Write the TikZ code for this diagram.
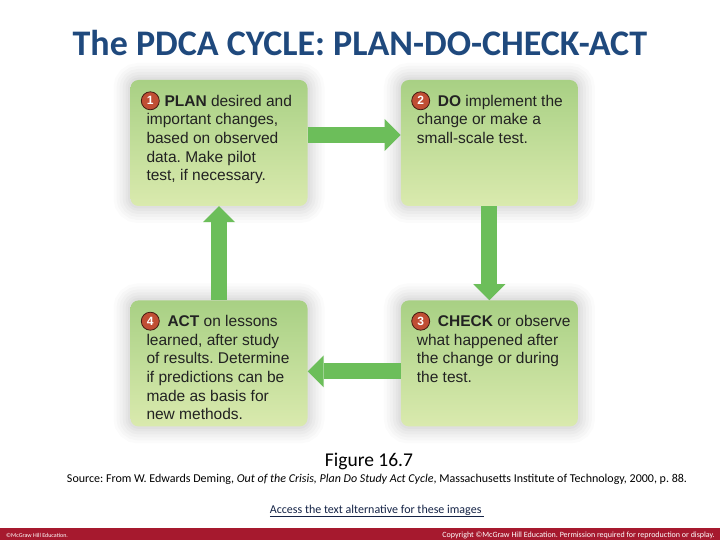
\documentclass[tikz,border=0pt]{standalone}
\usepackage{fontspec}
\setmainfont{Liberation Sans}
\newfontfamily\calibri{Carlito}
\usetikzlibrary{arrows.meta,positioning}
\frenchspacing

\definecolor{titleblue}{RGB}{31,73,125}
\definecolor{boxtop}{RGB}{168,208,132}
\definecolor{boxbot}{RGB}{218,234,174}
\definecolor{arrowgreen}{RGB}{108,190,90}
\definecolor{badgered}{RGB}{192,78,52}
\definecolor{barred}{RGB}{166,25,46}
\definecolor{linknavy}{RGB}{20,35,70}
\definecolor{textgray}{RGB}{34,34,34}

\begin{document}
\begin{tikzpicture}[
    x=1pt, y=-1pt,
    stepbox/.style={rounded corners=8pt, minimum width=177pt, minimum height=126pt,
              top color=boxtop, bottom color=boxbot, draw=none,
              preaction={draw=black, opacity=.015, line width=34pt},
              preaction={draw=black, opacity=.018, line width=28pt},
              preaction={draw=black, opacity=.02, line width=22pt},
              preaction={draw=black, opacity=.022, line width=16pt},
              preaction={draw=black, opacity=.025, line width=10pt},
              preaction={draw=black, opacity=.028, line width=5pt}},
    txt/.style={anchor=north west, align=left, inner sep=0pt, text=textgray,
              font=\fontsize{15.5}{18.6}\selectfont},
    badge/.style={circle, fill=badgered, draw=black!65!badgered, line width=.8pt,
              text=white, minimum size=18pt, inner sep=0pt,
              font=\bfseries\fontsize{12}{12}\selectfont},
    bigarrow/.style={draw=arrowgreen, line width=16pt,
              -{Triangle[length=16pt, width=32pt, line width=0pt]}},
    foot/.style={text=white, inner sep=0pt},
    ]
\useasboundingbox (0,0) rectangle (720,540);

\node[anchor=base, text=titleblue, font=\calibri\bfseries\fontsize{36}{36}\selectfont] (title)
     at (360,56) {The PDCA CYCLE: PLAN-DO-CHECK-ACT};

% the four steps
\node[stepbox] (plan) at (219,143) {};
\node[stepbox, right=93pt of plan] (do) {};
\node[stepbox, below=94pt of do] (check) {};
\node[stepbox, left=93pt of check] (act) {};

\node[badge] (n1) at ([xshift=20pt,yshift=-21pt]plan.north west) {1};
\node[badge] (n2) at ([xshift=20pt,yshift=-21pt]do.north west) {2};
\node[badge] (n3) at ([xshift=20pt,yshift=-21pt]check.north west) {3};
\node[badge] (n4) at ([xshift=20pt,yshift=-21pt]act.north west) {4};

\node[txt] (plantext) at ([xshift=16pt,yshift=-15pt]plan.north west)
     {\hspace*{18pt}\textbf{PLAN} desired and\\important changes,\\based on observed\\data. Make pilot\\test, if necessary.};
\node[txt] (dotext) at ([xshift=16pt,yshift=-15pt]do.north west)
     {\hspace*{21pt}\textbf{DO} implement the\\change or make a\\small-scale test.};
\node[txt] (checktext) at ([xshift=16pt,yshift=-15pt]check.north west)
     {\hspace*{21pt}\textbf{CHECK} or observe\\what happened after\\the change or during\\the test.};
\node[txt] (acttext) at ([xshift=16pt,yshift=-15pt]act.north west)
     {\hspace*{21pt}\textbf{ACT} on lessons\\learned, after study\\of results. Determine\\if predictions can be\\made as basis for\\new methods.};

\draw[bigarrow] ([yshift=8pt]plan.east) -- ([yshift=8pt]do.west);
\draw[bigarrow] (do.south) -- (check.north);
\draw[bigarrow] ([yshift=-8pt]check.west) -- ([yshift=-8pt]act.east);
\draw[bigarrow] (act.north) -- (plan.south);

% caption and source
\node[anchor=base, font=\calibri\fontsize{19.5}{19.5}\selectfont] (fig) at (369,466) {Figure 16.7};
\node[anchor=base, font=\calibri\fontsize{12}{12}\selectfont] (source) at (377,482)
     {Source: From W. Edwards Deming, \textit{Out of the Crisis, Plan Do Study Act Cycle}, Massachusetts Institute of Technology, 2000, p. 88.};
\node[anchor=base, text=linknavy, font=\calibri\fontsize{12}{12}\selectfont] (access) at (377,513)
     {\underline{Access the text alternative for these images }};

% footer
\fill[barred] (0,528) rectangle (720,540);
\node[foot, anchor=base west, font=\calibri\fontsize{6}{6}\selectfont] (footl) at (6,537) {©McGraw Hill Education.};
\node[foot, anchor=base east, font=\calibri\fontsize{8}{8}\selectfont] (footr) at (715,537)
     {Copyright ©McGraw Hill Education. Permission required for reproduction or display.};
\end{tikzpicture}
\end{document}
